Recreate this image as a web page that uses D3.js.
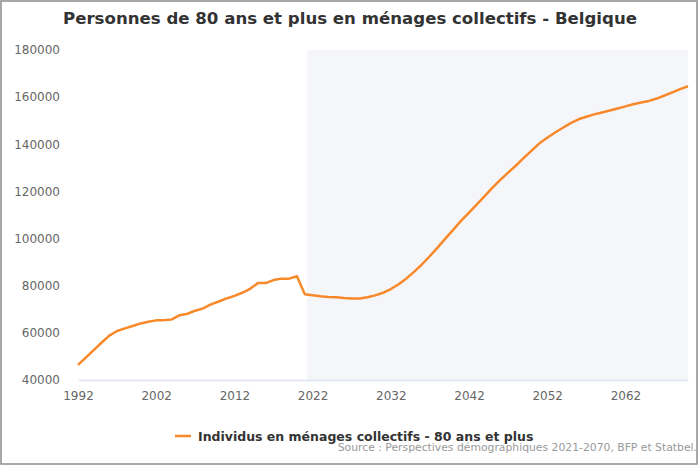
<!DOCTYPE html>
<html><head><meta charset="utf-8">
<script src="https://cdn.jsdelivr.net/npm/d3@7"></script>
<style>body{margin:0;background:#fff}svg{display:block}text{font-family:"DejaVu Sans",sans-serif}</style>
</head><body>
<svg id="c" width="700" height="467"></svg>
<script>
const years = d3.range(1992, 2071);
const values = [
 46400,49500,52700,55800,58800,60800,61900,62900,64000,64700,
 65300,65400,65700,67500,68100,69400,70400,72100,73300,74600,
 75700,77000,78700,81100,81100,82400,83000,83000,84000,76400,
 76000,75500,75200,75100,74800,74600,74600,75100,75900,77000,
 78600,80600,83100,86000,89100,92600,96300,100100,103800,107600,
 111000,114500,118000,121600,124900,128000,131000,134200,137300,140400,
 142800,145000,147000,149000,150600,151700,152700,153500,154300,155200,
 156100,157000,157700,158400,159400,160700,162000,163400,164600
];
const xTicks = [1992,2002,2012,2022,2032,2042,2052,2062];
const yTicks = [40000,60000,80000,100000,120000,140000,160000,180000];
const projectionStart = 2021.3;
const projectionEnd = 2070;
const title = "Personnes de 80 ans et plus en ménages collectifs - Belgique";
const seriesName = "Individus en ménages collectifs - 80 ans et plus";
const source = "Source : Perspectives démographiques 2021-2070, BFP et Statbel.";

const svg = d3.select("#c");
const W = 700, H = 467;
const m = {l:78, r:12, t:50, b:87};
const x = d3.scaleLinear().domain([1992, 2070]).range([m.l, W - m.r]);
const y = d3.scaleLinear().domain([40000, 180000]).range([H - m.b, m.t]);

svg.append("rect").attr("x",1).attr("y",1).attr("width",W-4).attr("height",H-4)
  .attr("fill","#fff").attr("stroke","#8c8c8c").attr("stroke-width",1.5);

svg.append("text").attr("x",W/2).attr("y",24).attr("text-anchor","middle")
  .attr("font-size",16.6).attr("font-weight","bold").attr("fill","#333").text(title);

svg.append("rect").attr("x",x(projectionStart)).attr("y",y(180000))
  .attr("width",x(projectionEnd)-x(projectionStart)).attr("height",y(40000)-y(180000))
  .attr("fill","#f5f6fa");

const yAxis = svg.append("g").attr("transform",`translate(${m.l-18},0)`)
  .call(d3.axisLeft(y).tickValues(yTicks).tickSize(0).tickPadding(0).tickFormat(d3.format("d")));
yAxis.select(".domain").remove();
yAxis.selectAll("text").attr("font-size",12).attr("fill","#666").attr("font-family","DejaVu Sans");

const xAxis = svg.append("g").attr("transform",`translate(0,${H-m.b})`)
  .call(d3.axisBottom(x).tickValues(xTicks).tickSize(0).tickPadding(11).tickFormat(d3.format("d")));
xAxis.select(".domain").attr("stroke","#dfe3ef").attr("stroke-width",1.5);
xAxis.selectAll("text").attr("font-size",12).attr("fill","#666").attr("font-family","DejaVu Sans");

const line = d3.line().x((d,i)=>x(years[i])).y(d=>y(d));
svg.append("path").datum(values).attr("d",line).attr("fill","none")
  .attr("stroke","#f7892b").attr("stroke-width",2.5).attr("stroke-linejoin","round");

const lg = svg.append("g").attr("transform","translate(175,436)");
lg.append("line").attr("x1",0).attr("x2",16).attr("y1",0).attr("y2",0)
  .attr("stroke","#f7892b").attr("stroke-width",2.5);
lg.append("text").attr("x",23).attr("y",5).attr("font-size",12.5).attr("font-weight","bold")
  .attr("fill","#333").text(seriesName);

svg.append("text").attr("x",697).attr("y",451).attr("text-anchor","end")
  .attr("font-size",10.8).attr("fill","#999").text(source);
</script>
</body></html>
